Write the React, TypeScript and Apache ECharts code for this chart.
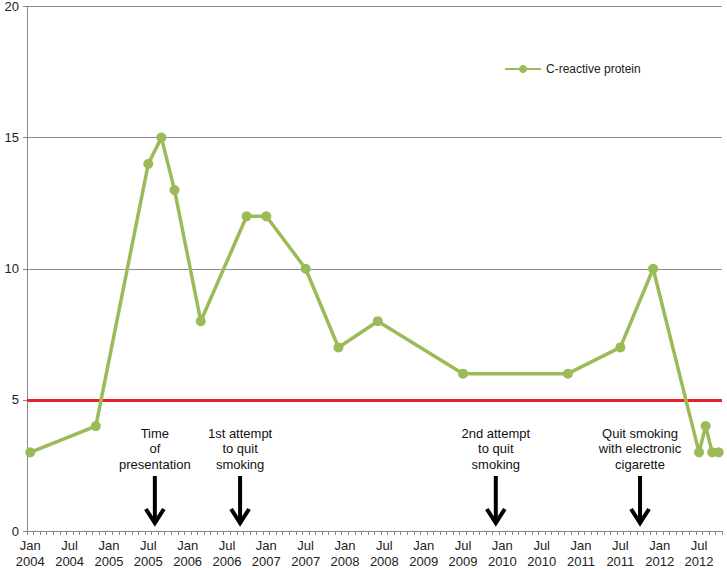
import React, { useEffect, useRef } from "react";
import * as echarts from "echarts";

const MONTH_NAMES = ["Jan", "Feb", "Mar", "Apr", "May", "Jun", "Jul", "Aug", "Sep", "Oct", "Nov", "Dec"];
const START_YEAR = 2004;
const MONTH_COUNT = 106; // Jan 2004 .. Oct 2012
const categories: string[] = Array.from({ length: MONTH_COUNT }, (_, i) =>
  `${START_YEAR + Math.floor(i / 12)}-${String((i % 12) + 1).padStart(2, "0")}`
);

const crpDates = [
  "2004-01", "2004-11", "2005-07", "2005-09", "2005-11", "2006-03", "2006-10", "2007-01",
  "2007-07", "2007-12", "2008-06", "2009-07", "2010-11", "2011-07", "2011-12", "2012-07",
  "2012-08", "2012-09", "2012-10",
];
const crpValues = [3, 4, 14, 15, 13, 8, 12, 12, 10, 7, 8, 6, 6, 7, 10, 3, 4, 3, 3];

const thresholdValue = 5;

const eventDates = ["2005-08", "2006-09", "2009-12", "2011-10"];
const eventLabels = [
  "Time\nof\npresentation",
  "1st attempt\nto quit\nsmoking",
  "2nd attempt\nto quit\nsmoking",
  "Quit smoking\nwith electronic\ncigarette",
];

const yTicks = { min: 0, max: 20, interval: 5 };

const FONT = "Liberation Sans, Arial, sans-serif";

export default function App() {
  const ref = useRef<HTMLDivElement>(null);
  useEffect(() => {
    if (!ref.current) return;
    const chart = echarts.init(ref.current, undefined, { renderer: "svg" });
    chart.setOption({
      animation: false,
      backgroundColor: "#ffffff",
      textStyle: { fontFamily: FONT },
      grid: { left: 27, right: 5, top: 4, bottom: 39, containLabel: false },
      legend: {
        data: ["C-reactive protein"],
        left: 499,
        top: 58,
        itemWidth: 36,
        itemHeight: 10,
        textStyle: { fontSize: 12, color: "#222", fontFamily: FONT },
      },
      xAxis: {
        type: "category",
        data: categories,
        boundaryGap: true,
        axisLine: { lineStyle: { color: "#888", width: 1 } },
        axisTick: { show: true, interval: 0, length: 4, lineStyle: { color: "#888" } },
        axisLabel: {
          interval: (idx: number) => idx % 6 === 0,
          formatter: (v: string) => {
            const [y, m] = v.split("-");
            return `${MONTH_NAMES[parseInt(m, 10) - 1]}\n${y}`;
          },
          fontSize: 13,
          lineHeight: 16,
          color: "#222",
          margin: 6,
          fontFamily: FONT,
        },
        splitLine: { show: false },
      },
      yAxis: {
        type: "value",
        min: yTicks.min,
        max: yTicks.max,
        interval: yTicks.interval,
        axisLine: { show: true, lineStyle: { color: "#888", width: 1 } },
        axisTick: { show: true, length: 4, lineStyle: { color: "#888" } },
        axisLabel: { fontSize: 13, color: "#222", margin: 8, fontFamily: FONT },
        splitLine: { show: true, lineStyle: { color: "#8c8c8c", width: 1 } },
      },
      series: [
        {
          name: "C-reactive protein",
          type: "line",
          data: crpDates.map((d, i) => [d, crpValues[i]]),
          lineStyle: { color: "#9bbb59", width: 3.5 },
          itemStyle: { color: "#9bbb59" },
          symbol: "circle",
          symbolSize: 10,
          showSymbol: true,
          showAllSymbol: true,
          z: 3,
          markLine: {
            silent: true,
            symbol: ["none", "none"],
            label: { show: false },
            lineStyle: { color: "#e3232b", width: 3, type: "solid" },
            data: [{ yAxis: thresholdValue }],
            z: 2,
          },
        },
        {
          type: "custom",
          silent: true,
          z: 4,
          data: eventDates.map((d, i) => [d, 0, i]),
          renderItem: (params: any, api: any) => {
            const p = api.coord([api.value(0), 0]);
            const idx = api.value(2) as number;
            const x = p[0];
            const yb = p[1];
            return {
              type: "group",
              children: [
                {
                  type: "text",
                  style: {
                    text: eventLabels[idx],
                    x,
                    y: yb - 59,
                    align: "center",
                    verticalAlign: "bottom",
                    fontSize: 13,
                    fontFamily: FONT,
                    lineHeight: 15.5,
                    fill: "#111",
                  },
                },
                {
                  type: "line",
                  shape: { x1: x, y1: yb - 55, x2: x, y2: yb - 10 },
                  style: { stroke: "#000", lineWidth: 4 },
                },
                {
                  type: "polyline",
                  shape: { points: [[x - 9, yb - 22], [x, yb - 8], [x + 9, yb - 22]] },
                  style: { stroke: "#000", lineWidth: 4, fill: null },
                },
              ],
            };
          },
        },
      ],
    });
    return () => chart.dispose();
  }, []);
  return (
    <div
      ref={ref}
      style={{ position: "fixed", left: 0, top: 0, width: 727, height: 570, background: "#fff" }}
    />
  );
}
